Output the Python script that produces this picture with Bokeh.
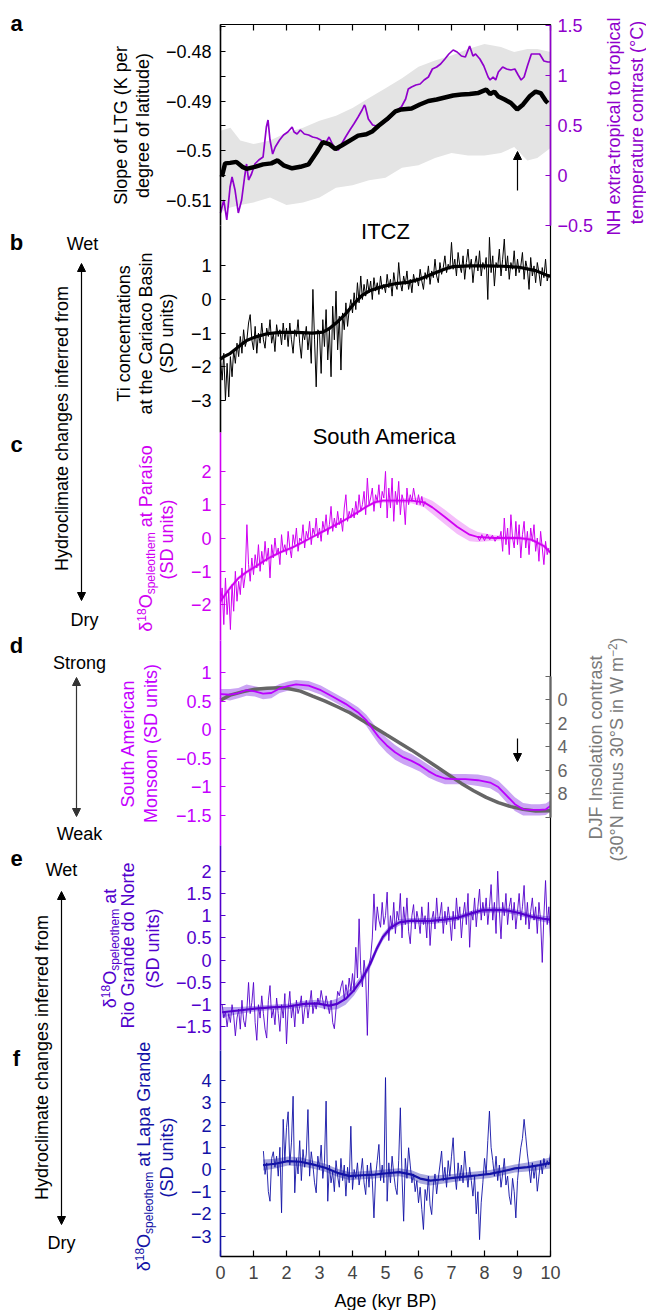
import math
import numpy as np
from bokeh.plotting import figure
from bokeh.models import (Range1d, LinearAxis, FixedTicker, CustomJSTickFormatter,
                          Label, Arrow, NormalHead)
from bokeh.embed import file_html
from bokeh.resources import INLINE

# ====================== DATA ======================
AGE_TICKS = [0, 1, 2, 3, 4, 5, 6, 7, 8, 9, 10]

# (a) slope of the latitudinal temperature gradient (left axis) + spread band
A_LTG_AGE = [0.04, 0.14, 0.29, 0.48, 0.66, 0.79, 1.04, 1.29, 1.54, 1.73, 1.91, 2.17, 2.42, 2.67,
             2.92, 3.10, 3.29, 3.48, 3.67, 3.92, 4.17, 4.42, 4.61, 4.79, 5.04, 5.30, 5.48, 5.79,
             6.04, 6.30, 6.55, 6.80, 7.05, 7.30, 7.55, 7.80, 8.05, 8.17, 8.30, 8.42, 8.61, 8.80,
             8.99, 9.17, 9.36, 9.55, 9.70, 9.86, 9.92]
A_LTG = [-0.5053, -0.5026, -0.5025, -0.5023, -0.5033, -0.5037, -0.5033, -0.5028, -0.5026, -0.5020,
         -0.5030, -0.5036, -0.5033, -0.5028, -0.5003, -0.4983, -0.4987, -0.4997, -0.4990, -0.4980,
         -0.4970, -0.4967, -0.4961, -0.4950, -0.4937, -0.4921, -0.4917, -0.4915, -0.4907, -0.4900,
         -0.4897, -0.4893, -0.4889, -0.4887, -0.4886, -0.4884, -0.4877, -0.4886, -0.4881, -0.4891,
         -0.4897, -0.4904, -0.4917, -0.4907, -0.4891, -0.4881, -0.4884, -0.4900, -0.4904]
A_BAND_AGE = [0, 0.3, 0.6, 1.0, 1.5, 2.0, 2.5, 3.0, 3.5, 4.0, 4.5, 5.0, 5.5, 6.0, 6.5, 7.0, 7.5,
              8.0, 8.5, 8.9, 9.3, 9.6, 10]
A_BAND_HI = [-0.4960, -0.4954, -0.4980, -0.4987, -0.4980, -0.4964, -0.4954, -0.4940, -0.4930,
             -0.4914, -0.4894, -0.4874, -0.4854, -0.4831, -0.4818, -0.4808, -0.4795, -0.4785,
             -0.4791, -0.4801, -0.4795, -0.4795, -0.4801]
A_BAND_LO = [-0.5125, -0.5115, -0.5110, -0.5105, -0.5095, -0.5110, -0.5105, -0.5095, -0.5075,
             -0.5070, -0.5060, -0.5055, -0.5035, -0.5030, -0.5015, -0.5005, -0.5010, -0.5010,
             -0.5005, -0.4993, -0.5020, -0.5015, -0.4995]
# (a) NH extra-tropical to tropical temperature contrast (right axis)
A_NH_AGE = [0.0, 0.1, 0.19, 0.29, 0.35, 0.44, 0.54, 0.64, 0.73, 0.79, 0.85, 0.94, 1.04, 1.16, 1.29,
            1.39, 1.44, 1.5, 1.58, 1.66, 1.79, 1.91, 2.04, 2.17, 2.23, 2.32, 2.42, 2.54, 2.67, 2.79,
            2.92, 3.04, 3.17, 3.29, 3.39, 3.48, 3.57, 3.67, 3.79, 3.92, 4.04, 4.17, 4.29, 4.36, 4.39,
            4.48, 4.61, 4.73, 4.86, 4.98, 5.11, 5.23, 5.36, 5.48, 5.61, 5.69, 5.79, 5.92, 6.05, 6.17,
            6.3, 6.42, 6.55, 6.67, 6.8, 6.92, 7.05, 7.17, 7.3, 7.42, 7.55, 7.65, 7.73, 7.86, 7.98,
            8.11, 8.17, 8.26, 8.34, 8.42, 8.55, 8.67, 8.8, 8.92, 9.02, 9.11, 9.2, 9.3, 9.42, 9.55,
            9.67, 9.8, 9.92, 10.0]
A_NH = [-0.38, -0.25, -0.45, -0.12, -0.02, -0.15, -0.38, -0.25, -0.02, 0.11, -0.05, 0.01, 0.11, 0.15,
        0.18, 0.48, 0.55, 0.35, 0.21, 0.28, 0.35, 0.40, 0.43, 0.48, 0.43, 0.41, 0.45, 0.41, 0.40, 0.38,
        0.37, 0.35, 0.31, 0.38, 0.31, 0.26, 0.25, 0.31, 0.38, 0.45, 0.51, 0.58, 0.65, 0.70, 0.68, 0.56,
        0.50, 0.49, 0.50, 0.53, 0.56, 0.61, 0.65, 0.68, 0.76, 0.86, 0.88, 0.90, 0.91, 0.95, 0.98, 1.06,
        1.08, 1.11, 1.16, 1.21, 1.25, 1.23, 1.19, 1.18, 1.29, 1.19, 1.21, 1.16, 1.09, 0.98, 0.95, 0.98,
        0.95, 1.03, 1.08, 1.06, 1.05, 1.06, 1.00, 0.95, 0.98, 1.09, 1.21, 1.21, 1.21, 1.14, 1.13, 1.13]

# (b) Ti concentrations, Cariaco Basin
B_SMOOTH_AGE = [0.0, 0.08, 0.29, 0.54, 0.79, 1.04, 1.41, 1.79, 2.29, 2.79, 3.10, 3.29, 3.54, 3.79,
                4.04, 4.29, 4.54, 4.92, 5.29, 5.67, 6.05, 6.42, 6.80, 7.05, 7.55, 8.05, 8.55, 9.05,
                9.55, 9.92, 10.0]
B_SMOOTH = [-1.78, -1.71, -1.61, -1.41, -1.22, -1.12, -1.02, -0.98, -0.98, -1.0, -0.97, -0.87, -0.67,
            -0.43, -0.13, 0.12, 0.27, 0.39, 0.47, 0.51, 0.61, 0.76, 0.91, 0.98, 1.0, 1.0, 0.99, 0.96,
            0.86, 0.71, 0.69]
B_TI_AGE = np.round(np.arange(0.0, 9.9501, 0.05), 2)
B_TI = [-1.8, -2.4, -1.6, -3.0, -1.9, -2.9, -1.7, -2.3, -1.5, -1.9, -1.3, -1.7, -1.1, -1.6, -0.9, -1.4, -1.2, -0.7, -0.45, -1.2,
        -1.5, -0.8, -1.6, -1.0, -1.3, -0.7, -1.2, -1.45, -0.85, -1.1, -0.6, -1.3, -1.0, -1.55, -0.75, -1.1, -0.9, -1.35, -0.7, -1.2,
        -0.85, -1.4, -0.7, -1.2, -1.6, -0.9, -1.1, -0.6, -1.3, -1.75, -0.95, -1.2, -0.8, -1.5, -1.0, -1.9, 0.3, -1.2, -2.6, -0.9,
        -1.0, -2.2, -0.6, -1.4, -0.3, -1.8, -0.9, -2.3, -0.2, -1.2, 0.25, -1.5, -0.5, -2.1, -0.4, -0.9, -0.1, -0.8, -0.3, 0.0,
        -0.4, 0.2, -0.3, 0.5, -0.1, 0.7, 0.0, 0.45, 0.1, 0.6, 0.2, 0.55, 0.0, 0.65, 0.25, 0.5, 0.15, 0.7, 0.3, 0.45,
        0.2, 0.75, 0.35, 0.6, 0.1, 0.8, 0.45, 0.3, 1.1, 0.5, 0.25, 0.7, 0.45, 0.85, 0.3, 0.6, 0.2, 0.75, 0.5, 0.65,
        0.4, 0.9, 0.55, 0.3, 0.8, 0.6, 1.0, 0.45, 0.85, 0.65, 1.2, 0.7, 0.5, 1.1, 0.75, 0.95, 1.3, 0.8, 1.05, 0.9,
        1.7, 0.9, 1.2, 0.7, 1.4, 1.0, 0.8, 1.3, 0.6, 1.1, 1.5, 0.9, 1.2, 0.5, 1.0, 1.3, 0.85, 1.45, 0.7, 1.1,
        0.9, 1.25, 0.0, 1.85, 0.8, 1.3, 0.4, 1.1, 0.95, 1.5, 0.7, 1.2, 1.8, 0.85, 1.3, 0.6, 1.1, 0.9, 1.45, 0.7,
        1.2, 0.8, 1.0, 1.4, 0.6, 1.15, 0.9, 0.3, 1.25, 0.7, 1.0, 0.5, 1.1, 0.8, 0.4, 0.95, 0.65, 1.2, 0.55, 0.75]

# (c) d18O speleothem at Paraiso
C_SMOOTH_AGE = [0.0, 0.04, 0.29, 0.54, 0.79, 1.04, 1.41, 1.79, 2.17, 2.54, 2.92, 3.29, 3.67, 3.92,
                4.17, 4.42, 4.67, 4.92, 5.29, 5.79, 6.17, 6.42, 6.8, 7.17, 7.55, 7.8, 8.3, 8.67, 9.05,
                9.42, 9.8, 10.0]
C_SMOOTH = [-1.9, -1.84, -1.5, -1.21, -1.02, -0.87, -0.63, -0.44, -0.29, -0.1, 0.1, 0.29, 0.49, 0.63,
            0.78, 0.94, 1.07, 1.12, 1.12, 1.12, 1.07, 0.92, 0.63, 0.34, 0.1, 0.03, 0.0, 0.0, 0.0, -0.05,
            -0.24, -0.44]
C_HALFWIDTH = [0.08, 0.08, 0.07, 0.06, 0.06, 0.06, 0.05, 0.05, 0.05, 0.05, 0.05, 0.05, 0.05, 0.05,
               0.05, 0.05, 0.05, 0.06, 0.06, 0.08, 0.15, 0.2, 0.22, 0.22, 0.2, 0.15, 0.08, 0.06, 0.05,
               0.05, 0.06, 0.08]
C_AGE1 = np.round(np.arange(0.0, 5.9501, 0.05), 2)
C_VAL1 = [-2.0, -1.5, -2.6, -1.2, -2.3, -1.6, -2.75, -1.4, -2.2, -1.0, -1.9, -1.3, -1.7, -0.9, -1.5, -1.1, 0.4, -0.8, -1.3, -0.6,
          -1.1, -0.5, -0.9, -0.2, -1.0, -0.4, -0.8, -0.1, -0.7, -0.3, -1.2, -0.2, -0.6, 0.0, -0.5, -0.3, -0.8, 0.1, -0.4, -0.2,
          -0.5, 0.2, -0.3, -0.6, 0.1, -0.2, 0.3, -0.4, 0.0, -0.1, 0.4, -0.3, 0.2, 0.0, 0.5, -0.2, 0.3, 0.1, 0.6, 0.0,
          0.3, -0.1, 0.5, 0.2, 0.7, 0.1, 0.4, 0.95, 0.2, 0.6, 0.3, 0.8, 0.4, 0.6, 0.2, 0.9, 1.3, 0.5, 0.8, 0.6,
          0.9, 0.6, 1.1, 0.7, 1.3, 0.8, 1.0, 1.4, 0.7, 1.8, 1.0, 1.2, 1.5, 0.8, 1.3, 1.1, 1.6, 0.9, 1.4, 1.2,
          2.0, 0.6, 1.5, 0.9, 1.8, 0.5, 1.4, 1.0, 1.7, 0.7, 1.3, 1.1, 0.4, 1.5, 1.0, 1.3, 1.1, 1.5, 1.2, 1.0]
C_AGE2 = [6.0, 6.05, 6.1, 6.15, 6.2]
C_VAL2 = [1.3, 1.0, 1.25, 0.95, 1.1]
C_AGE3 = [7.78, 7.85, 7.92, 8.0, 8.08, 8.16, 8.24, 8.32, 8.4, 8.46]
C_VAL3 = [0.05, -0.08, 0.1, -0.08, 0.12, -0.05, 0.08, -0.1, 0.06, 0.0]
C_AGE4 = np.round(np.arange(8.5, 9.9501, 0.05), 2)
C_VAL4 = [0.2, -0.4, 0.6, -0.2, 0.3, -0.5, 0.7, 0.0, -0.3, 0.5,
          -0.2, 0.4, -0.6, 0.1, 0.5, -0.3, 0.2, -0.5, 0.3, -0.1, 0.4, -0.4, 0.0, -0.7, 0.2, -0.3, -0.8, -0.1, -0.5, -0.3]

# (d) South American Monsoon index (left) and DJF insolation contrast (right, inverted)
D_AGE = [0.0, 0.04, 0.29, 0.54, 0.79, 1.04, 1.29, 1.54, 1.79, 2.04, 2.29, 2.67, 3.04, 3.42, 3.79,
         4.17, 4.42, 4.61, 4.79, 5.04, 5.29, 5.54, 5.79, 6.05, 6.3, 6.55, 6.8, 7.05, 7.42, 7.8, 8.17,
         8.42, 8.67, 8.92, 9.17, 9.42, 9.67, 9.86, 10.0]
D_SAM = [0.62, 0.62, 0.61, 0.64, 0.69, 0.67, 0.63, 0.64, 0.72, 0.76, 0.79, 0.77, 0.69, 0.57, 0.45,
         0.30, 0.16, 0.01, -0.13, -0.28, -0.40, -0.49, -0.55, -0.63, -0.73, -0.81, -0.86, -0.87,
         -0.87, -0.89, -0.93, -1.01, -1.16, -1.31, -1.40, -1.41, -1.41, -1.40, -1.34]
D_HALFWIDTH = [0.09, 0.09, 0.1, 0.09, 0.1, 0.09, 0.1, 0.09, 0.08, 0.08, 0.08, 0.08, 0.08, 0.08, 0.08,
               0.09, 0.1, 0.11, 0.12, 0.13, 0.13, 0.12, 0.12, 0.11, 0.11, 0.1, 0.1, 0.09, 0.09, 0.1,
               0.1, 0.11, 0.12, 0.12, 0.11, 0.1, 0.1, 0.1, 0.1]
D_INS_AGE = [0.0, 0.29, 0.66, 1.04, 1.41, 1.79, 2.04, 2.42, 2.79, 3.17, 3.54, 3.92, 4.29, 4.67, 5.04,
             5.42, 5.79, 6.17, 6.55, 6.92, 7.3, 7.67, 8.05, 8.42, 8.8, 9.17, 9.55, 10.0]
D_INS = [0.06, -0.37, -0.65, -0.88, -0.96, -0.99, -0.93, -0.71, -0.28, 0.14, 0.62, 1.13, 1.76, 2.38,
         3.03, 3.68, 4.31, 5.01, 5.72, 6.43, 7.14, 7.76, 8.33, 8.78, 9.12, 9.35, 9.49, 9.46]

# (e) d18O speleothem at Rio Grande do Norte
E_SMOOTH_AGE = [0.05, 0.54, 1.04, 1.54, 2.04, 2.54, 2.92, 3.29, 3.54, 3.79, 4.04, 4.29, 4.54, 4.73,
                4.92, 5.17, 5.42, 5.79, 6.3, 6.8, 7.17, 7.55, 7.92, 8.3, 8.67, 9.05, 9.42, 9.8, 10.0]
E_SMOOTH = [-1.17, -1.13, -1.09, -1.06, -1.04, -0.98, -0.97, -1.02, -0.98, -0.87, -0.68, -0.42, -0.08,
            0.25, 0.52, 0.74, 0.85, 0.89, 0.88, 0.91, 0.95, 1.04, 1.12, 1.13, 1.12, 1.06, 0.98, 0.93, 0.91]
E_HALFWIDTH = [0.12, 0.08, 0.06, 0.06, 0.06, 0.07, 0.08, 0.1, 0.12, 0.13, 0.12, 0.1, 0.09, 0.08, 0.08,
               0.07, 0.07, 0.06, 0.07, 0.07, 0.06, 0.06, 0.06, 0.06, 0.06, 0.06, 0.06, 0.07, 0.08]
E_AGE = np.round(np.arange(0.05, 10.0001, 0.05), 2)
E_VAL = [-1.0, -1.3, -1.15, -1.5, -1.2, -1.4, -1.0, -1.25, -1.7, -1.3, -1.1, -1.55, -0.9, -1.35, -1.5, -1.1, -0.5, -1.2, -0.95, -0.5,
         -1.4, -1.8, -1.0, -1.3, -0.8, -1.2, -1.55, -1.75, -0.9, -0.57, -1.3, -1.1, -1.45, -0.85, -1.2, -1.6, -1.0, -1.3, -0.75, -1.88,
         -1.1, -0.7, -1.3, -1.0, -1.5, -0.9, -1.2, -1.05, -0.8, -1.43, -1.1, -0.9, -1.3, -1.0, -0.68, -1.2, -0.95, -1.1, -0.85, -1.0,
         -0.68, -0.9, -1.1, -0.8, -1.0, -1.2, -0.9, -1.4, -1.54, -1.1, -0.7, -0.8, -0.6, -0.46, -0.9, -0.55, -0.8, -0.4, -0.7, -0.3,
         -0.7, 0.29, -0.4, 0.93, -0.23, -0.6, 0.0, -0.35, -1.69, -0.1, 0.07, 0.5, 1.49, 0.67, 1.2, 0.9, 0.74, 1.3, 0.8, 1.0,
         1.53, 0.44, 1.0, 0.7, 1.3, 0.6, 1.1, 0.9, 1.5, 0.5, 1.2, 0.8, 1.4, 0.65, 0.37, 1.0, 1.25, 0.7, 1.1, 0.9,
         0.6, 1.2, 0.8, 1.0, 0.5, 1.3, 0.33, 0.9, 1.1, 0.7, 1.4, 0.85, 1.0, 1.3, 0.6, 1.1, 0.8, 1.2, 0.9, 0.44,
         1.1, 0.7, 1.4, 0.9, 1.2, 0.5, 1.0, 1.3, 0.8, 1.5, 0.29, 1.1, 0.9, 1.4, 0.75, 1.2, 1.6, 0.9, 1.3, 1.0,
         1.4, 0.8, 1.2, 1.7, 0.9, 1.3, 0.6, 2.0, 1.1, 0.48, 1.3, 1.0, 1.5, 0.8, 1.2, 1.4, 0.9, 1.3, 0.7, 1.1,
         1.5, 0.9, 1.2, 1.68, 0.8, 1.3, 0.7, 1.1, 1.4, 0.9, 1.2, 0.6, 1.3, 0.9, -0.05, 1.0, 1.79, 0.8, 1.2, 0.48]

# (f) d18O speleothem at Lapa Grande
F_SMOOTH_AGE = [1.29, 1.66, 2.04, 2.42, 2.79, 3.17, 3.54, 3.92, 4.29, 4.67, 5.04, 5.42, 5.79, 6.05,
                6.36, 6.67, 7.05, 7.42, 7.8, 8.17, 8.55, 8.92, 9.3, 9.67, 10.0]
F_SMOOTH = [0.2, 0.26, 0.38, 0.35, 0.23, 0.08, -0.15, -0.3, -0.26, -0.23, -0.17, -0.12, -0.23, -0.41,
            -0.5, -0.45, -0.38, -0.32, -0.26, -0.2, -0.08, 0.05, 0.11, 0.2, 0.3]
F_HALFWIDTH = [0.25, 0.22, 0.2, 0.2, 0.18, 0.18, 0.18, 0.18, 0.18, 0.18, 0.18, 0.18, 0.2, 0.22, 0.22,
               0.2, 0.18, 0.18, 0.18, 0.18, 0.18, 0.18, 0.2, 0.22, 0.25]
F_AGE = np.round(np.arange(1.30, 10.0001, 0.05), 2)
F_VAL = [0.83, -0.22, 0.3, -1.0, -1.43, 0.5, 0.8, 0.1, 0.6, -0.3, 1.0, -1.95, 2.26, 0.4, 1.88, 2.6, 0.2, 1.2, 3.3, -1.05,
         0.5, -0.2, 1.3, -0.5, 0.9, 0.1, 0.7, 2.7, -0.3, 0.8, 0.2, -0.6, -1.05, 0.6, 0.0, 1.1, -0.4, 0.3, 3.08, -1.43,
         0.2, -0.6, -0.1, -1.0, 0.4, -0.3, -0.8, 0.5, -0.5, 0.2, -1.2, 0.1, -0.6, 1.95, -0.9, 0.0, -0.4, 0.3, -0.7, -0.2,
         0.5, -0.6, -1.13, 0.2, -0.8, 0.3, -0.5, -2.18, -0.3, 0.4, 1.13, -0.5, 0.2, -0.6, 4.14, -1.43, 0.3, -0.6, 0.6, -0.2,
         -0.8, -1.13, 0.4, 2.78, -0.3, -2.33, 0.5, -0.4, 0.98, 0.2, -0.6, -0.2, -1.0, -0.5, -1.5, -0.8, -1.8, -2.7, -0.9, -1.4,
         -0.3, -1.6, -2.03, -0.7, -0.2, -1.1, -0.4, 0.2, 0.83, -0.5, 0.1, -0.8, 0.4, -0.3, 0.6, 1.43, -0.2, -0.9, 0.3, -0.5,
         0.2, -0.6, 0.83, -0.1, -0.8, 0.1, -0.5, -1.2, -0.3, -2.0, -1.0, -3.16, -1.5, -0.6, 0.5, -0.2, 1.3, 2.63, 1.0, 0.4,
         -0.3, 0.6, -0.5, 0.2, -0.8, -0.2, 0.5, -0.7, -0.3, -1.2, -1.58, -0.4, -1.0, -2.18, -0.5, 0.3, 0.98, 1.4, 2.26, 1.5,
         0.7, 0.1, -0.6, 0.3, -0.4, 0.2, -0.98, -0.3, 0.4, -0.2, 0.5, 0.1, 0.4, 0.2, 0.75]

# ====================== STYLE / LAYOUT ======================
FONT = "Liberation Sans"
PURPLE_A = "#9000cc"
MAG_C = "#d000f2"
MAG_C_BAND = "#f5bdfb"
D_LINE = "#bb00ff"
D_BAND = "#cba4f4"
D_TXT = "#c400ff"
E_COL = "#5200cc"
E_BAND = "#b9a8ef"
F_COL = "#1212a6"
F_BAND = "#a9a9de"
GRAY = "#666666"
GRAY_TXT = "#7a7a7a"

W, H = 646, 1310                                            # canvas = page pixels
FRAME_L, FRAME_R, FRAME_T, FRAME_B = 220, 550, 24, 1256     # plotted box, page pixels
PXK = (FRAME_R - FRAME_L) / 10.0

# value <-> page-y mapping per panel: (reference value, its page y, pixels per unit)
MAP = {
    "a": (-0.48, 51.0, 4950.0),
    "ar": (1.5, 24.5, 100.0),
    "b": (0.0, 299.0, 33.6),
    "c": (0.0, 537.5, 33.3),
    "d": (0.0, 729.0, 57.0),
    "dr": (0.0, 699.0, -11.75),
    "e": (0.0, 959.7, 44.5),
    "f": (0.0, 1169.0, 22.2),
}
PANEL_Y = {"a": (24, 224.5), "ar": (24.5, 224.5), "b": (224.5, 432), "c": (432, 640),
           "d": (640, 845), "e": (845, 1050), "f": (1050, 1256)}


def val_at(name, py):
    v0, y0, k = MAP[name]
    return v0 + (y0 - py) / k


def X(px):
    return (px - FRAME_L) / PXK


def pair(x, y):
    n = min(len(x), len(y))
    return list(x)[:n], list(y)[:n]


# the plotting frame covers the whole canvas; the panel box is drawn with axes
p = figure(width=W, height=H, x_range=Range1d(X(0), X(W)), y_range=Range1d(H, 0),
           x_axis_location=None, y_axis_location=None, output_backend="svg",
           toolbar_location=None, min_border=0,
           min_border_left=0, min_border_right=0, min_border_top=0, min_border_bottom=0)
p.grid.grid_line_color = None
p.outline_line_color = None
p.background_fill_color = "white"
p.border_fill_color = "white"

p.extra_y_ranges = {n: Range1d(start=val_at(n, H), end=val_at(n, 0)) for n in MAP}

FMT_JS = "const s = String(Math.round(tick*1000)/1000); return s.replace('-', '\u2212');"

# box: right edge line, top and bottom axes
p.add_layout(LinearAxis(fixed_location=10, bounds=(FRAME_T, FRAME_B), ticker=FixedTicker(ticks=[]),
                        axis_line_color="black", axis_line_width=1.2,
                        major_label_text_color=None), "right")
xb = LinearAxis(fixed_location=FRAME_B, bounds=(0, 10), ticker=FixedTicker(ticks=AGE_TICKS),
                formatter=CustomJSTickFormatter(code=FMT_JS),
                major_tick_in=6, major_tick_out=0, axis_line_width=1.6, major_tick_line_width=1.2,
                major_label_text_font=FONT, major_label_text_font_size="18px",
                major_label_standoff=9)
p.add_layout(xb, "below")
xt = LinearAxis(fixed_location=FRAME_T, bounds=(0, 10), ticker=FixedTicker(ticks=AGE_TICKS),
                major_tick_in=6, major_tick_out=0, axis_line_width=1.2, major_tick_line_width=1.2,
                major_label_text_color=None)
p.add_layout(xt, "above")


def yaxis(name, side, ticks, color, minor=(), bounds=None, fmt=None, lw=1.6):
    if bounds is None:
        ya, yb = PANEL_Y[name]
        lo, hi = sorted([val_at(name, ya), val_at(name, yb)])
        bounds = (lo - 1e-9, hi + 1e-9)
    ax = LinearAxis(y_range_name=name, fixed_location=0 if side == "left" else 10,
                    bounds=bounds, ticker=FixedTicker(ticks=list(ticks), minor_ticks=list(minor)),
                    formatter=fmt or CustomJSTickFormatter(code=FMT_JS),
                    axis_line_color=color, axis_line_width=lw,
                    major_tick_line_color=color, minor_tick_line_color=color,
                    major_tick_in=5, major_tick_out=0, minor_tick_in=5, minor_tick_out=0,
                    major_tick_line_width=1.2, minor_tick_line_width=1.2,
                    major_label_text_color=color, major_label_text_font=FONT,
                    major_label_text_font_size="18px",
                    major_label_standoff=9 if side == "left" else 7)
    p.add_layout(ax, side)


yaxis("a", "left", [-0.51, -0.5, -0.49, -0.48], "black", minor=[-0.505, -0.495, -0.485, -0.475])
yaxis("ar", "right", [-0.5, 0, 0.5, 1, 1.5], PURPLE_A)
yaxis("b", "left", [-3, -2, -1, 0, 1], "black")
yaxis("c", "left", [-2, -1, 0, 1, 2], MAG_C)
yaxis("d", "left", [-1.5, -1, -0.5, 0, 0.5, 1], D_TXT)
yaxis("dr", "right", [-2, 0, 2, 4, 6, 8, 10], GRAY, bounds=(-2, 10), lw=2.2,
      fmt=CustomJSTickFormatter(code="if (tick < -1 || tick > 9) { return ''; } return String(tick);"))
yaxis("e", "left", [-1.5, -1, -0.5, 0, 0.5, 1, 1.5, 2], E_COL)
yaxis("f", "left", [-3, -2, -1, 0, 1, 2, 3, 4], F_COL)

# ---------------- glyphs ----------------
# (a)
p.varea(x=A_BAND_AGE, y1=A_BAND_LO, y2=A_BAND_HI, fill_color="#e4e4e4", y_range_name="a")
x, y = pair(A_NH_AGE, A_NH)
p.line(x, y, line_color=PURPLE_A, line_width=1.7, y_range_name="ar")
x, y = pair(A_LTG_AGE, A_LTG)
p.line(x, y, line_color="black", line_width=4.5, y_range_name="a")

# (b)
x, y = pair(B_TI_AGE, B_TI)
p.line(x, y, line_color="black", line_width=1.0, y_range_name="b")
x, y = pair(B_SMOOTH_AGE, B_SMOOTH)
p.line(x, y, line_color="black", line_width=3.2, y_range_name="b")

# (c)
p.varea(x=C_SMOOTH_AGE, y1=[v - h for v, h in zip(C_SMOOTH, C_HALFWIDTH)],
        y2=[v + h for v, h in zip(C_SMOOTH, C_HALFWIDTH)], fill_color=MAG_C_BAND, y_range_name="c")
x1, y1 = pair(C_AGE1, C_VAL1)
x2, y2 = pair(C_AGE2, C_VAL2)
p.line(x1 + x2, y1 + y2, line_color=MAG_C, line_width=1.0, y_range_name="c")
x3, y3 = pair(C_AGE3, C_VAL3)
x4, y4 = pair(C_AGE4, C_VAL4)
p.line(x3 + x4, y3 + y4, line_color=MAG_C, line_width=1.0, y_range_name="c")
p.line(C_SMOOTH_AGE, C_SMOOTH, line_color=MAG_C, line_width=1.8, y_range_name="c")

# (d)
p.varea(x=D_AGE, y1=[v - h for v, h in zip(D_SAM, D_HALFWIDTH)],
        y2=[v + h for v, h in zip(D_SAM, D_HALFWIDTH)], fill_color=D_BAND, y_range_name="d")
p.line(D_INS_AGE, D_INS, line_color=GRAY, line_width=3.5, y_range_name="dr")
p.line(D_AGE, D_SAM, line_color=D_LINE, line_width=1.8, y_range_name="d")

# (e)
p.varea(x=E_SMOOTH_AGE, y1=[v - h for v, h in zip(E_SMOOTH, E_HALFWIDTH)],
        y2=[v + h for v, h in zip(E_SMOOTH, E_HALFWIDTH)], fill_color=E_BAND, y_range_name="e")
x, y = pair(E_AGE, E_VAL)
p.line(x, y, line_color=E_COL, line_width=0.9, y_range_name="e")
p.line(E_SMOOTH_AGE, E_SMOOTH, line_color=E_COL, line_width=2.2, y_range_name="e")

# (f)
p.varea(x=F_SMOOTH_AGE, y1=[v - h for v, h in zip(F_SMOOTH, F_HALFWIDTH)],
        y2=[v + h for v, h in zip(F_SMOOTH, F_HALFWIDTH)], fill_color=F_BAND, y_range_name="f")
x, y = pair(F_AGE, F_VAL)
p.line(x, y, line_color=F_COL, line_width=0.9, y_range_name="f")
p.line(F_SMOOTH_AGE, F_SMOOTH, line_color=F_COL, line_width=2.2, y_range_name="f")

# ---------------- text ----------------
CW = dict.fromkeys("0123456789", 0.556)
CW.update({" ": 0.278, "(": 0.333, ")": 0.333, "\u00b0": 0.4, "\u03b4": 0.556, "\u2212": 0.584,
           "\u00ed": 0.278, "A": .667, "D": .722, "F": .611, "G": .778, "I": .278, "J": .5,
           "L": .556, "N": .722, "O": .778, "P": .667, "R": .722, "S": .667, "W": .944,
           "a": .556, "c": .5, "d": .556, "e": .556, "h": .556, "i": .222, "l": .222, "m": .833,
           "n": .556, "o": .556, "p": .556, "r": .333, "s": .5, "t": .278, "u": .556})


def tw(s, size):
    return sum(CW.get(ch, 0.556) for ch in s) * size


def lab(px, py, text, size=18, color="black", angle=0.0, align="center", bold=False):
    p.add_layout(Label(x=X(px), y=py, text=text, angle=angle, text_align=align,
                       text_baseline="middle", text_font=FONT, text_font_size=f"{size}px",
                       text_color=color, text_font_style="bold" if bold else "normal"))


def vlab(px, cy, text, size=18, color="black"):
    lab(px, cy, text, size=size, color=color, angle=math.pi / 2)


def vcompound(px, cy, pieces, color):
    total = sum(tw(t, s) + g for t, s, d, g in pieces)
    y = cy + total / 2
    for t, s, d, g in pieces:
        y -= g
        lab(px + d, y, t, size=s, color=color, angle=math.pi / 2, align="left")
        y -= tw(t, s)


def arrow(px, y0, y1, color="black", both=False, lw=1.2):
    head = lambda: NormalHead(size=8, fill_color=color, line_color=color, line_width=1)
    p.add_layout(Arrow(x_start=X(px), y_start=y0, x_end=X(px), y_end=y1, end=head(),
                       start=head() if both else None, line_color=color, line_width=lw))


# panel letters
for letter, py in [("a", 23), ("b", 242), ("c", 444), ("d", 645), ("e", 858), ("f", 1058)]:
    lab(16, py, letter, size=22, bold=True)

# (a) titles
vlab(120, 125, "Slope of LTG (K per")
vlab(142, 125, "degree of latitude)")
vlab(613, 126, "NH extra-tropical to tropical", color=PURPLE_A)
vlab(636, 122, "temperature contrast (\u00b0C)", color=PURPLE_A)
arrow(FRAME_L + 9.0 * PXK, 190, 151)

# (b)
lab(FRAME_L + 5.0 * PXK, 231, "ITCZ", size=22)
vlab(123, 333, "Ti concentrations")
vlab(145, 333, "at the Cariaco Basin")
vlab(166, 333, "(SD units)")

# (c)
lab(FRAME_L + 4.98 * PXK, 436, "South America", size=22)
SPEL = [("\u03b4", 18, 0, 0), ("18", 12, -4, 0), ("O", 18, 0, 0), ("speleothem", 12, 5.5, 0)]
vcompound(145, 538, SPEL + [("at Para\u00edso", 18, 0, 5)], MAG_C)
vlab(166, 539, "(SD units)", color=MAG_C)

# (d)
vlab(127, 743, "South American", color=D_TXT)
vlab(150, 743, "Monsoon (SD units)", color=D_TXT)
vlab(595, 747, "DJF Insolation contrast", color=GRAY_TXT)
vcompound(616, 749, [("(30\u00b0N minus 30\u00b0S in W m", 18, 0, 0), ("\u22122", 12, -4, 0),
                     (")", 18, 0, 0)], GRAY_TXT)
arrow(FRAME_L + 9.0 * PXK, 738, 761)

# (e)
vcompound(109, 948, SPEL + [("at", 18, 0, 5)], E_COL)
vlab(127, 945, "Rio Grande do Norte", color=E_COL)
vlab(152, 948, "(SD units)", color=E_COL)

# (f)
vcompound(143, 1156, SPEL + [("at Lapa Grande", 18, 0, 5)], F_COL)
vlab(166, 1157, "(SD units)", color=F_COL)
lab(FRAME_L + 5.0 * PXK, 1300, "Age (kyr BP)")

# left-side hydroclimate annotations
lab(82, 243, "Wet")
arrow(81, 600, 263, both=True)
lab(84, 619, "Dry")
vlab(61, 428, "Hydroclimate changes inferred from")

lab(79, 662, "Strong")
arrow(76, 816, 677, color="#333333", both=True)
lab(79, 833, "Weak")

lab(61, 869, "Wet")
arrow(61, 1224, 891, both=True)
lab(61, 1242, "Dry")
vlab(41, 1057, "Hydroclimate changes inferred from")

open("out.html", "w").write(file_html(p, INLINE))
